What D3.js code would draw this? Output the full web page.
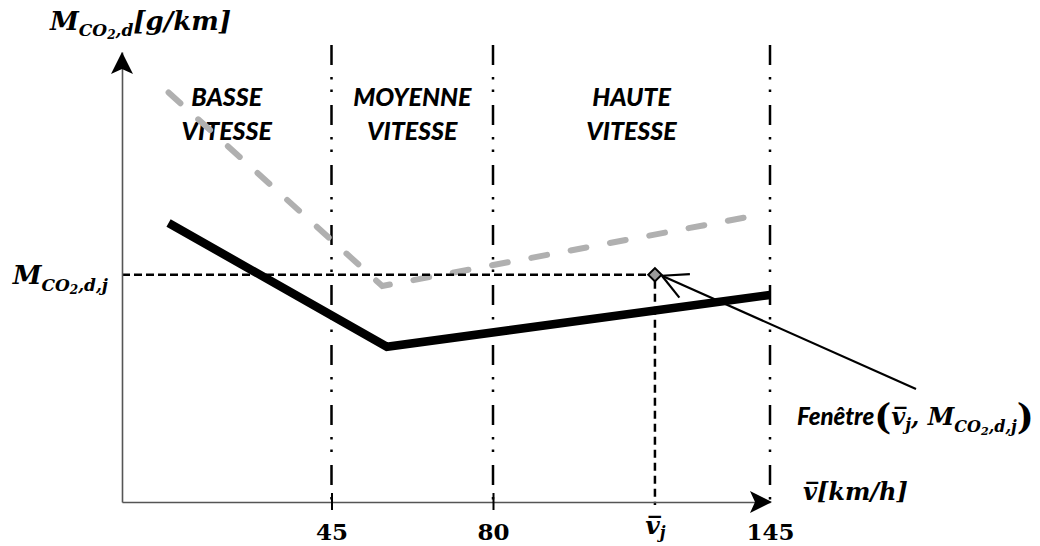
<!DOCTYPE html>
<html>
<head>
<meta charset="utf-8">
<script src="https://cdn.jsdelivr.net/npm/d3@7"></script>
<style>
  html, body { margin: 0; padding: 0; background: #fff; }
  svg { display: block; }
  .math { font-family: "DejaVu Serif", serif; font-weight: bold; font-style: italic; fill: #000; }
  .num { font-family: "DejaVu Serif", serif; font-weight: bold; fill: #000; }
  .zone { font-family: Lato, "Liberation Sans", sans-serif; font-weight: 900; font-style: italic; fill: #000; }
</style>
</head>
<body>
<svg id="chart" width="1040" height="546"></svg>
<script>
// Speed-zone boundaries (km/h) and their names
const zoneBounds = [45, 80, 145];
const zoneNames = [["BASSE", "VITESSE"], ["MOYENNE", "VITESSE"], ["HAUTE", "VITESSE"]];
const axisTickLabels = ["45", "80", "145"];

// Emission curve (solid black): speed vs. CO2 emissions (relative units)
const baseSpeed = [10, 57, 145];
const baseEmission = [62, 34.5, 46];

// Emission curve (grey dashed)
const upperSpeed = [10, 56, 143.5];
const upperEmission = [91, 48, 64];

// Window point (v̄j, M_CO2,d,j)
const windowSpeed = 118;
const windowEmission = 50.5;

const svg = d3.select("#chart");

// Schematic (piecewise) speed axis and emission axis
const x = d3.scaleLinear().domain([0, 45, 80, 145]).range([122, 331.5, 493, 770]);
const y = d3.scaleLinear().domain([0, 100]).range([502, 52]);

// ---- Zone separators: dash-dot-dot vertical lines
svg.append("g").selectAll("line").data(zoneBounds).join("line")
  .attr("x1", d => x(d)).attr("x2", d => x(d))
  .attr("y1", 45).attr("y2", 505)
  .attr("stroke", "#000").attr("stroke-width", 2.5)
  .attr("stroke-dasharray", "20,12,2.5,10,2.5,13");

// ---- Zone labels, centred between the boundaries
const zoneEdges = [0].concat(zoneBounds);
zoneNames.forEach((lines, i) => {
  const cx = (x(zoneEdges[i]) + x(zoneEdges[i + 1])) / 2;
  lines.forEach((t, j) => {
    svg.append("text").attr("class", "zone")
      .attr("x", cx).attr("y", 106 + j * 34)
      .attr("text-anchor", "middle").attr("font-size", 25)
      .text(t);
  });
});

// ---- Curves
const line = d3.line().x(d => x(d[0])).y(d => y(d[1]));

svg.append("path")
  .datum(d3.zip(upperSpeed, upperEmission))
  .attr("d", line).attr("fill", "none")
  .attr("stroke", "#b0b0b0").attr("stroke-width", 6)
  .attr("stroke-linecap", "round").attr("stroke-dasharray", "16,24");

svg.append("path")
  .datum(d3.zip(baseSpeed, baseEmission))
  .attr("d", line).attr("fill", "none")
  .attr("stroke", "#000").attr("stroke-width", 8.5)
  .attr("stroke-linejoin", "miter");

// ---- Projection of the window point onto the axes
svg.append("line")
  .attr("x1", x(0)).attr("x2", x(windowSpeed) - 6)
  .attr("y1", y(windowEmission)).attr("y2", y(windowEmission))
  .attr("stroke", "#000").attr("stroke-width", 2.5).attr("stroke-dasharray", "8,4");
svg.append("line")
  .attr("x1", x(windowSpeed)).attr("x2", x(windowSpeed))
  .attr("y1", y(windowEmission) + 6).attr("y2", y(0) + 3)
  .attr("stroke", "#000").attr("stroke-width", 2.5).attr("stroke-dasharray", "8,5");

// ---- Axes
const xAxis = d3.axisBottom(x).tickValues([45, 80, windowSpeed, 145])
  .tickSize(0).tickSizeOuter(0).tickPadding(22)
  .tickFormat(d => d === windowSpeed ? "" : axisTickLabels[zoneBounds.indexOf(d)]);
const gx = svg.append("g").attr("transform", `translate(0,${y(0)})`).call(xAxis);
gx.select(".domain").attr("stroke", "#555").attr("stroke-width", 1.6);
gx.selectAll(".tick text").attr("class", "num").attr("font-size", 23)
  .attr("font-family", null).attr("fill", "#000");
// small crossing ticks at 45 and 80
gx.selectAll(".tick").filter(d => d === 45 || d === 80).append("line")
  .attr("y1", -9).attr("y2", 8).attr("stroke", "#000").attr("stroke-width", 2);
// v̄j label under its tick
const vjTick = gx.selectAll(".tick").filter(d => d === windowSpeed).select("text");
vjTick.attr("class", "math").attr("font-size", 25).attr("y", 32).attr("dy", 0).text(null);
vjTick.append("tspan").text("v\u0305");
vjTick.append("tspan").attr("font-size", 16).attr("dy", 4).text("j");

const yAxis = d3.axisLeft(y).tickValues([windowEmission]).tickSize(0).tickSizeOuter(0)
  .tickPadding(14).tickFormat("");
const gy = svg.append("g").attr("transform", `translate(${x(0)},0)`).call(yAxis);
gy.select(".domain").attr("stroke", "#555").attr("stroke-width", 1.6);
const mjTick = gy.select(".tick text").attr("class", "math").attr("font-size", 26)
  .attr("font-family", null).attr("fill", "#000").attr("dy", "0.32em");
mjTick.append("tspan").text("M");
mjTick.append("tspan").attr("font-size", 17).attr("dy", 7).text("CO");
mjTick.append("tspan").attr("font-size", 12).attr("dy", 3).text("2");
mjTick.append("tspan").attr("font-size", 17).attr("dy", -3).text(",d,j");

// arrow heads on both axes
const arrowHead = "M0,0 L-11,22 L0,17 L11,22 Z";
svg.append("path").attr("d", arrowHead)
  .attr("transform", `translate(${x(0)},${y(100)})`).attr("fill", "#000");
svg.append("path").attr("d", arrowHead)
  .attr("transform", `translate(${x(145) + 2},${y(0)}) rotate(90)`).attr("fill", "#000");

// ---- Axis titles
const yTitle = svg.append("text").attr("class", "math").attr("x", 50).attr("y", 30).attr("font-size", 26);
yTitle.append("tspan").text("M");
yTitle.append("tspan").attr("font-size", 17).attr("dy", 6).text("CO");
yTitle.append("tspan").attr("font-size", 12).attr("dy", 3).text("2");
yTitle.append("tspan").attr("font-size", 17).attr("dy", -3).text(",d");
yTitle.append("tspan").attr("dy", -6).text("[g/km]");

const xTitle = svg.append("text").attr("class", "math").attr("x", 803).attr("y", 500).attr("font-size", 24);
xTitle.append("tspan").text("v\u0305");
xTitle.append("tspan").text("[km/h]");

// ---- Window point marker
svg.append("path")
  .attr("d", d3.symbol(d3.symbolSquare, 90)())
  .attr("transform", `translate(${x(windowSpeed)},${y(windowEmission)}) rotate(45)`)
  .attr("fill", "#9a9a9a").attr("stroke", "#000").attr("stroke-width", 2);

// ---- Annotation pointing at the window point
const tip = [x(windowSpeed) + 7, y(windowEmission) + 1];
const tail = [916, 389];
svg.append("line")
  .attr("x1", tip[0]).attr("y1", tip[1]).attr("x2", tail[0]).attr("y2", tail[1])
  .attr("stroke", "#000").attr("stroke-width", 2.2);
const ang = Math.atan2(tail[1] - tip[1], tail[0] - tip[0]);
[-0.48, 0.48].forEach(off => {
  svg.append("line")
    .attr("x1", tip[0]).attr("y1", tip[1])
    .attr("x2", tip[0] + 28 * Math.cos(ang + off)).attr("y2", tip[1] + 28 * Math.sin(ang + off))
    .attr("stroke", "#000").attr("stroke-width", 2.2);
});

const note = svg.append("text").attr("x", 797).attr("y", 425);
note.append("tspan").attr("class", "zone").attr("font-size", 24).text("Fenêtre");
note.append("tspan").attr("class", "num").attr("font-weight", "normal").attr("font-size", 36).attr("dy", 4).text("(");
note.append("tspan").attr("class", "math").attr("font-size", 24).attr("dy", -4).text("v\u0305");
note.append("tspan").attr("class", "math").attr("font-size", 16).attr("dy", 5).text("j");
note.append("tspan").attr("class", "math").attr("font-size", 24).attr("dy", -5).text(", M");
note.append("tspan").attr("class", "math").attr("font-size", 16).attr("dy", 7).text("CO");
note.append("tspan").attr("class", "math").attr("font-size", 11).attr("dy", 3).text("2");
note.append("tspan").attr("class", "math").attr("font-size", 16).attr("dy", -3).text(",d,j");
note.append("tspan").attr("class", "num").attr("font-weight", "normal").attr("font-size", 36).attr("dy", -3).text(")");
</script>
</body>
</html>
